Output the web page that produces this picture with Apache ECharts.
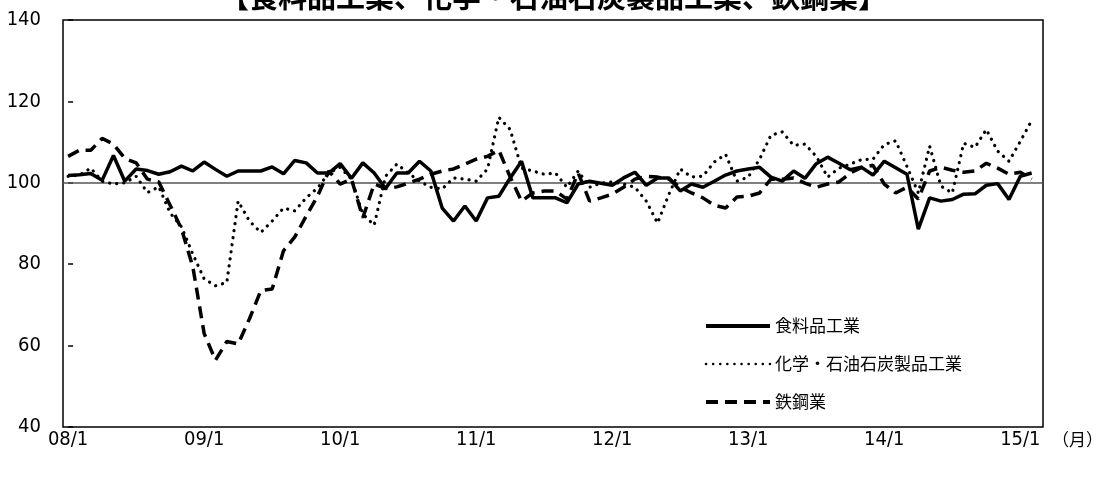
<!DOCTYPE html>
<html><head><meta charset="utf-8">
<script src="https://cdn.jsdelivr.net/npm/echarts@6/dist/echarts.min.js"></script>
<style>html,body{margin:0;padding:0;background:#fff}#c{width:1107px;height:480px}</style>
</head><body><div id="c"></div>
<script>
const titleText = '【食料品工業、化学・石油石炭製品工業、鉄鋼業】';
const unitText = '（月）';
const tickLabels = ['08/1','09/1','10/1','11/1','12/1','13/1','14/1','15/1'];
const tickIndex = [0,12,24,36,48,60,72,84];
const seriesNames = ['食料品工業','化学・石油石炭製品工業','鉄鋼業'];
// monthly values, 2008/1 .. 2015/2
const food = [101.8,102.0,102.3,100.6,106.7,100.4,103.4,103.0,102.1,102.7,
  104.1,102.9,105.1,103.3,101.6,102.9,102.9,102.9,103.9,102.2,
  105.5,104.9,102.4,102.4,104.7,101.1,104.9,102.4,98.6,102.4,
  102.4,105.3,102.9,93.8,90.6,94.3,90.6,96.3,96.7,101.2,
  105.3,96.3,96.3,96.3,95.1,99.7,100.4,99.9,99.4,101.2,
  102.6,99.4,101.2,101.2,98.0,99.7,98.9,100.4,101.9,102.9,
  103.4,103.8,101.4,100.4,102.9,101.1,104.7,106.3,104.8,103.2,
  103.8,101.9,105.3,103.7,102.1,88.6,96.3,95.5,95.9,97.2,
  97.3,99.4,99.8,95.9,101.6,102.4];
const chem = [101.6,101.9,103.6,100.4,99.7,100.0,101.6,97.6,99.0,92.6,
  89.2,82.5,76.4,74.7,75.5,95.5,90.6,87.8,90.6,93.8,
  93.1,96.3,98.7,102.4,103.8,100.9,92.3,89.6,101.6,104.6,
  102.4,100.4,98.9,98.5,101.2,100.9,100.4,103.4,116.1,113.1,
  103.6,102.9,102.1,102.4,98.9,102.9,98.9,99.9,100.2,99.7,
  98.9,95.5,90.1,97.2,103.4,101.4,101.6,105.1,107.0,100.4,
  101.4,105.8,111.7,112.5,109.2,109.5,106.5,101.4,103.6,104.6,
  105.7,105.8,109.4,110.3,104.0,97.5,109.0,99.2,97.5,109.7,
  108.7,113.1,107.8,105.3,110.2,115.3];
const steel = [106.5,108.0,108.0,110.9,109.5,106.0,104.9,100.9,100.2,94.5,
  88.7,79.4,63.0,56.4,61.0,60.4,66.6,73.5,73.9,83.3,
  86.7,91.8,96.7,102.9,99.7,100.9,91.4,99.7,98.6,99.0,
  99.9,100.9,102.1,102.9,103.4,104.6,105.8,106.5,108.0,101.4,
  95.5,97.5,98.0,98.0,96.0,102.4,95.5,96.3,97.2,98.9,
  100.9,101.6,101.4,100.9,98.9,97.5,96.3,94.5,93.8,96.5,
  96.7,97.5,100.9,100.9,101.2,99.9,98.9,99.7,100.2,102.4,
  103.8,104.3,99.7,97.5,98.9,96.0,102.9,103.8,103.1,102.6,
  102.9,104.8,103.6,102.1,102.6,100.9];
const baseLine = 100;

const numFont = "'DejaVu Sans Condensed','DejaVu Sans',sans-serif";
const jpFont = "'Noto Sans CJK JP',sans-serif";
const toPts = arr => arr.map((v, i) => [i, v]);

const chart = echarts.init(document.getElementById('c'), null, {renderer: 'canvas'});
chart.setOption({
  animation: false,
  backgroundColor: '#fff',
  title: {
    text: titleText, left: 'center', top: -23,
    textStyle: {fontFamily: jpFont, fontSize: 29, fontWeight: 'bold', color: '#000', lineHeight: 30}
  },
  graphic: [{
    type: 'text', left: 1052, top: 431,
    style: {text: unitText, fontFamily: jpFont, fontSize: 17, fill: '#000'}
  }],
  grid: {left: 63, right: 64, top: 20, bottom: 53, show: true, borderColor: '#000', borderWidth: 1.5, backgroundColor: 'transparent'},
  xAxis: {
    type: 'value', min: -0.45, max: 86,
    axisLine: {show: false}, axisTick: {show: false}, splitLine: {show: false},
    axisLabel: {
      customValues: tickIndex,
      formatter: v => { const k = tickIndex.indexOf(Math.round(v)); return k >= 0 ? tickLabels[k] : ''; },
      fontFamily: numFont, fontSize: 20, color: '#000', margin: 3
    }
  },
  yAxis: {
    type: 'value', min: 40, max: 140, interval: 20,
    axisLine: {show: false},
    axisTick: {show: true, inside: true, length: 5, lineStyle: {color: '#000', width: 1.5}},
    splitLine: {show: false},
    axisLabel: {fontFamily: numFont, fontSize: 20, color: '#000', margin: 22}
  },
  legend: {
    orient: 'vertical', left: 699, top: 312,
    itemWidth: 64, itemHeight: 18, itemGap: 20,
    itemStyle: {opacity: 0},
    textStyle: {fontFamily: jpFont, fontSize: 17, color: '#000', lineHeight: 18},
    data: [
      {name: seriesNames[0], lineStyle: {width: 4}},
      {name: seriesNames[1], lineStyle: {width: 2.5}},
      {name: seriesNames[2], lineStyle: {width: 4}}
    ]
  },
  series: [
    {
      name: seriesNames[0], type: 'line', data: toPts(food), symbol: 'none', z: 4,
      lineStyle: {color: '#000', width: 3.5, type: 'solid'},
      markLine: {
        silent: true, symbol: 'none', label: {show: false}, z: 1,
        lineStyle: {color: '#555', width: 1.5, type: 'solid'},
        data: [{yAxis: baseLine}]
      }
    },
    {
      name: seriesNames[1], type: 'line', data: toPts(chem), symbol: 'none', z: 3,
      lineStyle: {color: '#000', width: 3.2, type: [0.1, 7], cap: 'round'}
    },
    {
      name: seriesNames[2], type: 'line', data: toPts(steel), symbol: 'none', z: 3,
      lineStyle: {color: '#000', width: 3.5, type: [12, 7]}
    }
  ]
});
</script></body></html>
